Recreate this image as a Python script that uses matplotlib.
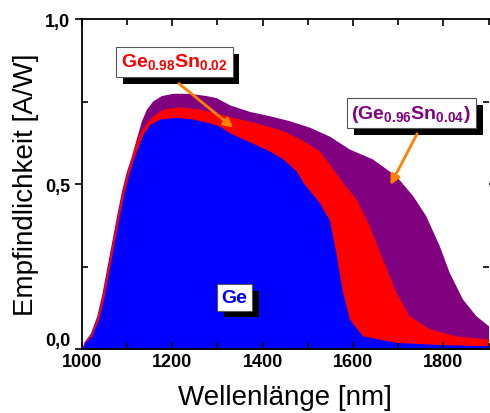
import matplotlib
matplotlib.use("Agg")
import matplotlib.pyplot as plt
import matplotlib.patheffects as pe
from matplotlib.ticker import MultipleLocator, FuncFormatter

plt.rcParams['font.family'] = ['Liberation Sans', 'DejaVu Sans']
plt.rcParams['mathtext.fontset'] = 'custom'
plt.rcParams['mathtext.rm'] = 'Liberation Sans:bold'
plt.rcParams['mathtext.bf'] = 'Liberation Sans:bold'

# Ge
wl_ge = [1000, 1007, 1022, 1037, 1048, 1059, 1070, 1081, 1092, 1103, 1114, 1125, 1135,
         1150, 1172, 1209, 1246, 1283, 1305, 1327, 1371, 1415, 1445, 1474, 1492, 1525,
         1548, 1562, 1577, 1592, 1621, 1695, 1800, 1900]
r_ge = [0.0, 0.02, 0.04, 0.09, 0.15, 0.23, 0.31, 0.39, 0.465, 0.525, 0.576, 0.614, 0.65,
        0.68, 0.697, 0.702, 0.697, 0.685, 0.675, 0.655, 0.628, 0.60, 0.576, 0.54, 0.50, 0.445,
        0.39, 0.293, 0.172, 0.091, 0.04, 0.02, 0.013, 0.01]

# Ge0.98Sn0.02
wl_sn2 = [1000, 1005, 1020, 1034, 1045, 1056, 1067, 1078, 1089, 1100, 1110, 1120, 1130,
          1143, 1157, 1180, 1216, 1261, 1297, 1356, 1400, 1445, 1489, 1526, 1548, 1577,
          1607, 1636, 1665, 1695, 1724, 1769, 1827, 1900]
r_sn2 = [0.0, 0.02, 0.045, 0.095, 0.16, 0.24, 0.32, 0.40, 0.475, 0.535, 0.585, 0.627, 0.66,
         0.685, 0.707, 0.727, 0.734, 0.727, 0.715, 0.695, 0.68, 0.662, 0.632, 0.60, 0.56, 0.505,
         0.455, 0.374, 0.273, 0.172, 0.101, 0.061, 0.04, 0.03]

# Ge0.96Sn0.04
wl_sn4 = [1000, 1005, 1019, 1033, 1044, 1055, 1066, 1077, 1088, 1099, 1110, 1121, 1132,
          1143, 1157, 1176, 1202, 1238, 1275, 1297, 1327, 1371, 1415, 1459, 1504, 1548,
          1592, 1643, 1695, 1732, 1761, 1791, 1813, 1842, 1872, 1900]
r_sn4 = [0.0, 0.022, 0.048, 0.10, 0.165, 0.245, 0.325, 0.405, 0.48, 0.54, 0.585, 0.64, 0.692,
         0.727, 0.752, 0.768, 0.775, 0.775, 0.768, 0.762, 0.74, 0.72, 0.707, 0.692, 0.672, 0.645,
         0.606, 0.576, 0.525, 0.465, 0.404, 0.313, 0.232, 0.152, 0.101, 0.07]

fig = plt.figure(figsize=(4.9, 4.14), dpi=100)
ax = fig.add_axes([0.167, 0.1546, 0.83, 0.797])

ax.fill_between(wl_sn4, r_sn4, 0, color='#800080', lw=0)
ax.fill_between(wl_sn2, r_sn2, 0, color='#ff0000', lw=0)
ax.fill_between(wl_ge, r_ge, 0, color='#0000ff', lw=0)

ax.set_xlim(1000, 1900)
ax.set_ylim(0, 1.0)
ax.xaxis.set_major_locator(MultipleLocator(200))
ax.xaxis.set_minor_locator(MultipleLocator(100))
ax.set_yticks([0, 0.5, 1.0])
ax.yaxis.set_minor_locator(MultipleLocator(0.25))
ax.yaxis.set_major_formatter(FuncFormatter(lambda v, p: f"{v:.1f}".replace('.', ',')))
ax.tick_params(which='both', direction='in', top=True, right=True, width=1.2)
ax.tick_params(which='major', length=5)
ax.tick_params(which='minor', length=4)
ax.tick_params(axis='y', which='major', direction='out')
ax.tick_params(axis='x', pad=3)
ax.tick_params(labelsize=13)
for lab in ax.get_xticklabels() + ax.get_yticklabels():
    lab.set_fontweight('bold')
for s in ax.spines.values():
    s.set_linewidth(1.3)
ax.spines['right'].set_visible(False)

# the "0,0" label sits a bit above the axis in the original
for tick in ax.yaxis.get_major_ticks():
    if abs(tick.get_loc()) < 1e-9:
        tick.label1.set_verticalalignment('bottom')

ax.set_xlabel('Wellenlänge [nm]', fontsize=20, labelpad=10)
ax.set_ylabel('Empfindlichkeit [A/W]', fontsize=20, labelpad=4)

shadow = [pe.SimplePatchShadow(offset=(5, -5), shadow_rgbFace='k', alpha=1), pe.Normal()]

def label(x, y, txt, color, size):
    t = ax.text(x, y, txt, color=color, fontsize=size, fontweight='bold',
                ha='center', va='center',
                bbox=dict(boxstyle='square,pad=0.25', fc='white', ec='#555555', lw=0.8))
    t.get_bbox_patch().set_path_effects(shadow)
    return t

label(1205, 0.87, r'Ge$_{0.98}$Sn$_{0.02}$', '#ff0000', 14)
label(1729, 0.715, r'(Ge$_{0.96}$Sn$_{0.04}$)', '#800080', 14)
label(1338, 0.157, 'Ge', '#0000ff', 14)

arrow = dict(arrowstyle='-|>', color='#ff8000', lw=2, mutation_scale=14)
ax.annotate('', xy=(1340, 0.665), xytext=(1210, 0.81), arrowprops=arrow)
ax.annotate('', xy=(1680, 0.49), xytext=(1745, 0.66), arrowprops=arrow)

fig.savefig('out.png', dpi=100)
